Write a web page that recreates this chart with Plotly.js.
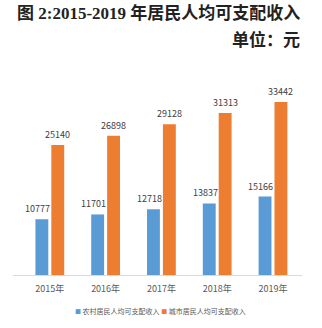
<!DOCTYPE html>
<html>
<head>
<meta charset="utf-8">
<script src="https://cdn.plot.ly/plotly-3.0.1.min.js"></script>
<style>html,body{margin:0;padding:0;background:#fff;}#chart{width:322px;height:328px;}</style>
</head>
<body>
<div id="chart"></div>
<script>
const years = ['2015年', '2016年', '2017年', '2018年', '2019年'];
const ruralIncome = [10777, 11701, 12718, 13837, 15166];
const urbanIncome = [25140, 26898, 29128, 31313, 33442];
const seriesNames = ['农村居民人均可支配收入', '城市居民人均可支配收入'];
const seriesColors = ['#5B9BD5', '#ED7D31'];
const titleText = '图 2:2015-2019 年居民人均可支配收入';
const unitText = '单位：元';

const narrow = '"Liberation Sans Narrow", "Noto Sans CJK SC", sans-serif';
const labelFont = {family: narrow, size: 9, color: '#404040'};

const traces = [
  {type: 'bar', x: years, y: ruralIncome, name: seriesNames[0], marker: {color: seriesColors[0]}},
  {type: 'bar', x: years, y: urbanIncome, name: seriesNames[1], marker: {color: seriesColors[1]}}
];

const annotations = [];
years.forEach((yr, i) => {
  annotations.push({x: yr, y: ruralIncome[i], xref: 'x', yref: 'y', text: String(ruralIncome[i]),
    showarrow: false, yanchor: 'bottom', xanchor: 'center', xshift: -12, yshift: 2, font: labelFont});
  annotations.push({x: yr, y: urbanIncome[i], xref: 'x', yref: 'y', text: String(urbanIncome[i]),
    showarrow: false, yanchor: 'bottom', xanchor: 'center', xshift: 8, yshift: 2, font: labelFont});
});
annotations.push(
  {xref: 'paper', yref: 'paper', x: 1.0, y: 1, xanchor: 'right', yanchor: 'bottom',
   yshift: 43, text: '<b>' + titleText + '</b>', showarrow: false,
   font: {family: '"Liberation Serif", "Noto Sans CJK SC", serif', size: 17, color: '#222'}},
  {xref: 'paper', yref: 'paper', x: 1.0, y: 1, xanchor: 'right', yanchor: 'bottom',
   yshift: 15, text: '<b>' + unitText + '</b>', showarrow: false,
   font: {family: '"Noto Sans CJK SC", sans-serif', size: 17, color: '#222'}},
  {xref: 'paper', yref: 'paper', x: 0.51, y: 0, xanchor: 'center', yanchor: 'middle',
   yshift: -36, showarrow: false,
   text: '<span style="color:' + seriesColors[0] + ';font-size:6px">■</span> ' + seriesNames[0] +
         ' <span style="color:' + seriesColors[1] + ';font-size:6px">■</span> ' + seriesNames[1],
   font: {family: '"Noto Sans CJK SC", sans-serif', size: 7, color: '#595959'}}
);

const layout = {
  width: 322, height: 328,
  margin: {l: 13, r: 20, t: 68, b: 53, autoexpand: false},
  paper_bgcolor: '#fff', plot_bgcolor: '#fff',
  barmode: 'group', bargap: 0.43, bargroupgap: 0.19,
  showlegend: false,
  xaxis: {range: [-0.66, 4.52], showgrid: false, showline: true, linecolor: '#d9d9d9', linewidth: 1,
          ticks: '', ticklabelstandoff: 5, tickfont: {family: narrow, size: 9, color: '#595959'}},
  yaxis: {range: [0, 40000], showgrid: false, showticklabels: false,
          zeroline: false, ticks: ''},
  annotations: annotations
};

Plotly.newPlot('chart', traces, layout, {displayModeBar: false, staticPlot: true});
</script>
</body>
</html>
